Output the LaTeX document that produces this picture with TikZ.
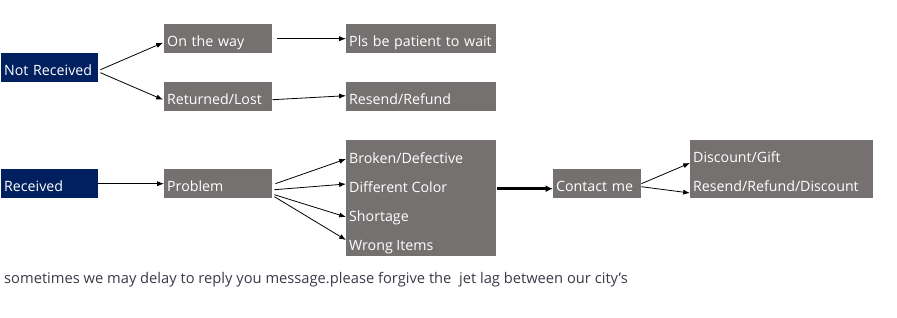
\documentclass[tikz,border=0pt]{standalone}
\usepackage{fontspec}
\setmainfont{Open Sans}
\usetikzlibrary{arrows.meta,positioning,fit,calc}
\definecolor{orderNavy}{RGB}{0,32,96}
\definecolor{orderGray}{RGB}{118,113,113}
\definecolor{noteInk}{RGB}{58,58,72}

\begin{document}
\begin{tikzpicture}[
  x=1pt, y=-1pt,
  box/.style={anchor=north west, inner xsep=3pt, inner ysep=0pt, minimum height=29pt,
              text height=17pt, text depth=2pt, text=white, align=left,
              font=\fontsize{14.2}{17}\selectfont},
  navybox/.style={box, fill=orderNavy, text width=91pt},
  graybox/.style={box, fill=orderGray},
  item/.style={anchor=base west, inner xsep=3pt, inner ysep=0pt, text=white,
               font=\fontsize{14.2}{17}\selectfont},
  arrow/.style={-{Latex[length=2.4mm,width=1.8mm]}, line width=0.8pt},
  bigarrow/.style={-{Latex[length=2.6mm,width=2.4mm]}, line width=2.6pt}
]
\useasboundingbox (0,0) rectangle (897,317);
% not received
\node[navybox] (notrecv) at (1,53) {Not Received};
\node[graybox, text width=102pt] (ontheway) at (164,24) {On the way};
\node[graybox, text width=102pt] (returned) at (164,82) {Returned/Lost};
\node[graybox, text width=144pt] (patient) at (346,24) {\mbox{Pls be patient to wait}};
\node[graybox, text width=144pt] (resend) at (346,82) {Resend/Refund};
\draw[arrow] ($(notrecv.east)+(2,2)$) -- ($(ontheway.west)+(-1,4)$);
\draw[arrow] ($(notrecv.east)+(2,5)$) -- ($(returned.west)+(-1,3)$);
\draw[arrow] ($(ontheway.east)+(5,0)$) -- (patient.west);
\draw[arrow] ($(returned.east)+(0,3)$) -- ($(resend.west)+(0,-1)$);
% received
\node[navybox] (recv) at (1,169) {Received};
\node[graybox, text width=102pt] (problem) at (164,169) {Problem};
\node[graybox, minimum width=150pt, minimum height=116pt] (issues) at (346,140) {};
\node[item] (broken) at (346,163) {Broken/Defective};
\node[item] (color) at (346,192) {Different Color};
\node[item] (shortage) at (346,221) {Shortage};
\node[item] (wrong) at (346,250) {Wrong Items};
\draw[arrow] (recv) -- (problem);
\draw[arrow] ($(problem.east)+(3,0)$) -- ($(broken.base west)+(0,-4)$);
\draw[arrow] ($(problem.east)+(2,6)$) -- ($(color.base west)+(0,-8)$);
\draw[arrow] ($(problem.east)+(2,11)$) -- ($(shortage.base west)+(0,-4)$);
\draw[arrow] ($(problem.east)+(2,13)$) -- ($(wrong.base west)+(0,-10)$);
\node[graybox, text width=82pt] (contact) at (553,169) {Contact me};
\draw[bigarrow] ($(issues.east |- contact.east)+(1,5)$) -- ($(contact.west)+(0,5)$);
\node[graybox, minimum width=183pt, minimum height=58pt] (remedy) at (690,140) {};
\node[item] (gift) at (690,162) {Discount/Gift};
\node[item] (refund) at (690,191) {Resend/Refund/Discount};
\draw[arrow] (contact.east) -- ($(gift.base west)+(0,1)$);
\draw[arrow] ($(contact.east)+(0,3)$) -- ($(refund.base west)+(0,2)$);
% note
\node[anchor=base west, inner sep=0pt, text=noteInk, font=\fontsize{14.7}{17}\selectfont] (note)
  at (4,283) {sometimes we may delay to reply you message.please forgive the\ \ jet lag between our city's};
\end{tikzpicture}
\end{document}
